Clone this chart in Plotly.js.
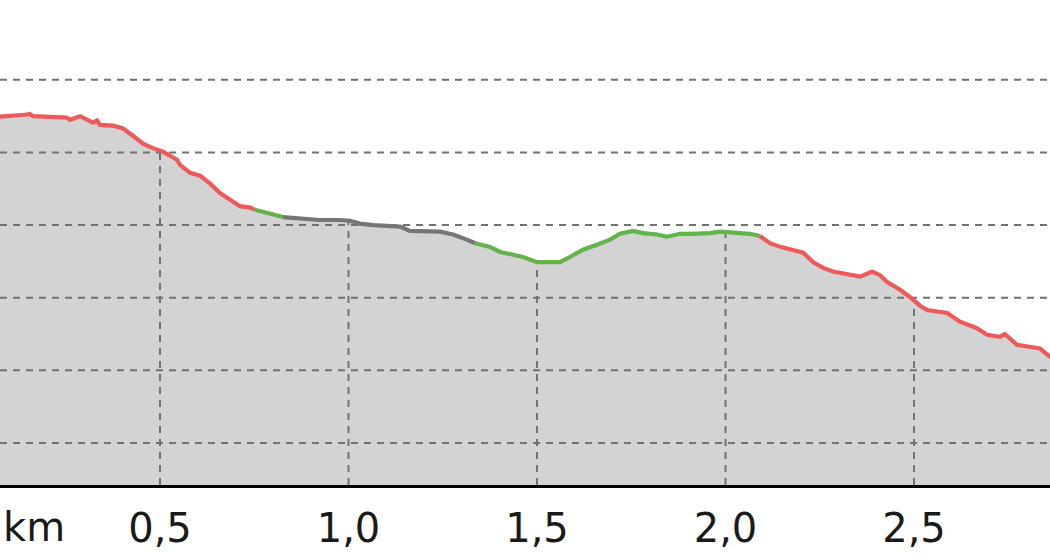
<!DOCTYPE html>
<html><head><meta charset="utf-8">
<script src="https://cdn.plot.ly/plotly-3.0.1.min.js"></script>
<style>html,body{margin:0;padding:0;background:#fff;overflow:hidden;} #chart{width:1050px;height:560px;}</style>
</head><body><div id="chart"></div>
<script>
// Elevation profile
const distanceKm = [0.070, 0.110, 0.142, 0.155, 0.163, 0.253, 0.261, 0.288, 0.306, 0.322,
  0.333, 0.341, 0.375, 0.402, 0.428, 0.455, 0.481, 0.508, 0.545, 0.553,
  0.580, 0.606, 0.633, 0.659, 0.686, 0.712, 0.739, 0.752, 0.784, 0.826,
  0.871, 0.924, 0.977, 1.004, 1.030, 1.065, 1.137, 1.163, 1.243, 1.277,
  1.314, 1.336, 1.375, 1.402, 1.428, 1.463, 1.500, 1.561, 1.587, 1.622,
  1.659, 1.694, 1.720, 1.755, 1.781, 1.818, 1.845, 1.879, 1.906, 1.959,
  1.985, 2.038, 2.065, 2.091, 2.118, 2.145, 2.171, 2.206, 2.232, 2.259,
  2.285, 2.330, 2.357, 2.389, 2.410, 2.428, 2.463, 2.489, 2.516, 2.535,
  2.588, 2.622, 2.667, 2.694, 2.728, 2.741, 2.773, 2.834, 2.870];
const elevationM = [494.9, 495.0, 495.2, 495.3, 495.0, 494.8, 494.5, 495.0, 494.6, 494.1,
  494.4, 493.8, 493.7, 493.3, 492.3, 491.2, 490.6, 490.1, 489.0, 488.3,
  487.2, 486.8, 485.7, 484.4, 483.5, 482.6, 482.4, 482.1, 481.7, 481.1,
  480.9, 480.7, 480.7, 480.6, 480.2, 480.0, 479.8, 479.2, 479.1, 478.7,
  478.0, 477.5, 477.0, 476.3, 476.0, 475.6, 474.9, 474.9, 475.6, 476.6,
  477.3, 478.0, 478.8, 479.2, 478.9, 478.7, 478.4, 478.8, 478.8, 478.9,
  479.1, 478.9, 478.8, 478.5, 477.5, 477.0, 476.6, 476.2, 474.9, 474.1,
  473.6, 473.1, 472.9, 473.6, 473.1, 472.2, 471.1, 470.1, 468.9, 468.3,
  467.9, 466.7, 465.8, 464.9, 464.6, 465.0, 463.5, 463.0, 461.5];
// Colour classes of the profile segments (break points in km)
const segmentBreaksKm = [0.752, 0.826, 1.336, 2.091];
const segmentKinds = ['steep', 'flat', 'neutral', 'flat', 'steep'];
const tickValuesKm = [0.5, 1.0, 1.5, 2.0, 2.5];
const tickLabels = ['0,5', '1,0', '1,5', '2,0', '2,5'];
const gridElevations = [450, 460, 470, 480, 490, 500];
const axisUnit = 'km';

const kindColors = {steep: '#ee5a5a', flat: '#62b34a', neutral: '#767676'};
const xRange = [0.0756, 2.8607];
const yRange = [444.2, 511.0];

function interp(x) {
  for (let i = 1; i < distanceKm.length; i++) {
    if (x <= distanceKm[i]) {
      const t = (x - distanceKm[i-1]) / (distanceKm[i] - distanceKm[i-1]);
      return elevationM[i-1] + t * (elevationM[i] - elevationM[i-1]);
    }
  }
  return elevationM[elevationM.length - 1];
}

const traces = [];
traces.push({x: distanceKm, y: elevationM, type: 'scatter', mode: 'lines',
  fill: 'tozeroy', fillcolor: '#d3d3d3', line: {width: 0, color: '#d3d3d3'}, hoverinfo: 'skip'});

const gx = [], gy = [];
gridElevations.forEach(g => { gx.push(xRange[0], xRange[1], null); gy.push(g, g, null); });
tickValuesKm.forEach(t => { gx.push(t, t, null); gy.push(yRange[0], interp(t), null); });
traces.push({x: gx, y: gy, type: 'scatter', mode: 'lines',
  line: {color: '#727272', width: 2, dash: '7px,6px'}, hoverinfo: 'skip'});

const bounds = [-Infinity].concat(segmentBreaksKm, [Infinity]);
segmentKinds.forEach((kind, s) => {
  const xs = [], ys = [];
  for (let i = 0; i < distanceKm.length; i++) {
    if (distanceKm[i] >= bounds[s] - 1e-9 && distanceKm[i] <= bounds[s+1] + 1e-9) {
      xs.push(distanceKm[i]); ys.push(elevationM[i]);
    }
  }
  traces.push({x: xs, y: ys, type: 'scatter', mode: 'lines',
    line: {color: kindColors[kind], width: 4.2}, hoverinfo: 'skip'});
});

const layout = {
  width: 1050, height: 560,
  margin: {l: 0, r: 0, t: 0, b: 75},
  paper_bgcolor: '#ffffff', plot_bgcolor: '#ffffff',
  showlegend: false,
  font: {family: 'DejaVu Sans', size: 40, color: '#1a1a1a'},
  xaxis: {range: xRange, showgrid: false, zeroline: false, tickvals: tickValuesKm, ticktext: tickLabels,
    ticks: '', showline: true, linecolor: '#000000', linewidth: 2.5, tickfont: {size: 40, color: '#1a1a1a'}, ticklabelstandoff: 6},
  yaxis: {range: yRange, showgrid: false, zeroline: false, showticklabels: false, ticks: '', showline: false},
  annotations: [{text: axisUnit, xref: 'paper', yref: 'paper', x: 0, y: 0, xanchor: 'left', yanchor: 'top',
    showarrow: false, xshift: 1, yshift: -17, font: {size: 40, color: '#1a1a1a'}}]
};
Plotly.newPlot('chart', traces, layout, {staticPlot: true, displayModeBar: false});
</script>
</body></html>
